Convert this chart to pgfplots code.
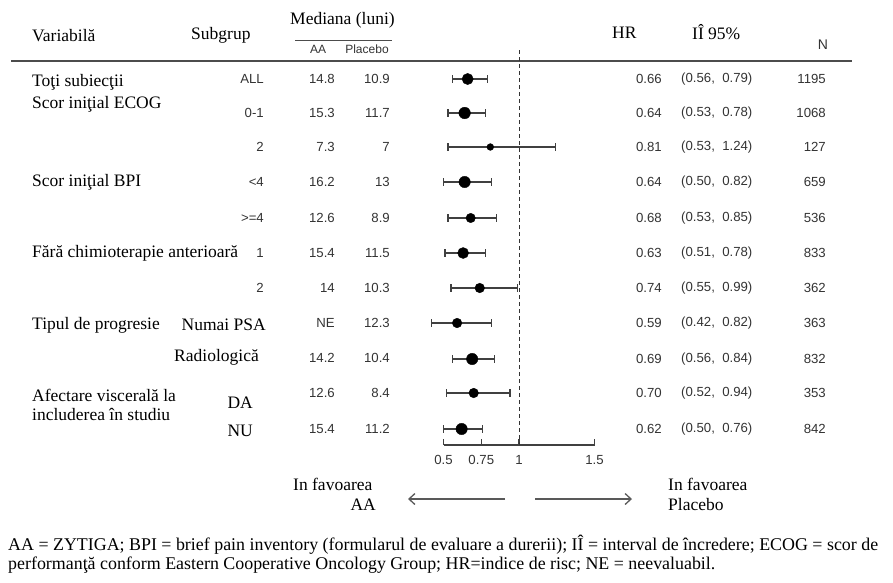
\documentclass[border=0pt]{standalone}
\usepackage{fontspec}
\setmainfont{Liberation Serif}
\newfontfamily\sansf{Liberation Sans}
\usepackage{pgfplots}
\pgfplotsset{compat=1.18}
\usepackage{pgfplotstable}
\usetikzlibrary{arrows.meta}
\newcommand{\ser}{\fontsize{17.5}{19}\selectfont}
\newcommand{\num}{\sansf\fontsize{13.2}{15}\selectfont}
\definecolor{numc}{HTML}{333333}
\pgfplotstableread{
y hr lo hi ms
-79 0.66 0.56 0.79 5.6
-113 0.64 0.53 0.78 5.8
-147 0.81 0.53 1.24 3.4
-182 0.64 0.50 0.82 5.7
-218 0.68 0.53 0.85 4.7
-253 0.63 0.51 0.78 5.5
-288 0.74 0.55 0.99 4.8
-323 0.59 0.42 0.82 4.8
-359 0.69 0.56 0.84 5.7
-393 0.70 0.52 0.94 4.8
-429 0.62 0.50 0.76 5.7
}\forest
\begin{document}
\begin{tikzpicture}[x=1pt,y=1pt]
\path (0,0) rectangle (893,-582);
% headers
\node[anchor=west,inner sep=0,font=\ser] at (32,-36) {Variabilă};
\node[anchor=west,inner sep=0,font=\ser] at (191,-35) {Subgrup};
\node[anchor=west,inner sep=0,font=\ser] at (290,-20) {Mediana (luni)};
\draw[black!70,line width=0.9pt] (295,-40) -- (392,-40);
\node[inner sep=0,font=\num\fontsize{12}{14}\selectfont,text=numc] at (318,-49) {AA};
\node[inner sep=0,font=\num\fontsize{12}{14}\selectfont,text=numc] at (367,-49) {Placebo};
\node[anchor=west,inner sep=0,font=\ser] at (612,-33) {HR};
\node[anchor=west,inner sep=0,font=\ser] at (692,-32) {IÎ 95\%};
\node[inner sep=0,font=\num\fontsize{14}{16}\selectfont,text=numc] at (823,-45) {N};
\draw[black!70,line width=1.4pt] (11,-61) -- (852,-61);
% variable labels
\node[anchor=west,inner sep=0,font=\ser] at (32,-82) {Toţi subiecţii};
\node[anchor=west,inner sep=0,font=\ser] at (32,-104) {Scor iniţial ECOG};
\node[anchor=west,inner sep=0,font=\ser] at (32,-182) {Scor iniţial BPI};
\node[anchor=west,inner sep=0,font=\ser] at (32,-253) {Fără chimioterapie anterioară};
\node[anchor=west,inner sep=0,font=\ser] at (32,-325) {Tipul de progresie};
\node[anchor=west,inner sep=0,font=\ser] at (32,-395) {Afectare viscerală la};
\node[anchor=west,inner sep=0,font=\ser] at (32,-414) {includerea în studiu};
% subgroup labels
\foreach \t/\yy in {ALL/79,0-1/113,2/147,<4/182,>=4/218,1/253,2/288}
  \node[anchor=east,inner sep=0,font=\num,text=numc] at (264,-\yy) {\t};
\node[anchor=east,inner sep=0,font=\ser] at (266,-325) {Numai PSA};
\node[anchor=east,inner sep=0,font=\ser] at (259,-357) {Radiologică};
\node[anchor=east,inner sep=0,font=\ser] at (253,-403) {DA};
\node[anchor=east,inner sep=0,font=\ser] at (253,-431) {NU};
% medians
\foreach \a/\p/\yy in {14.8/10.9/79,15.3/11.7/113,7.3/7/147,16.2/13/182,12.6/8.9/218,15.4/11.5/253,14/10.3/288,NE/12.3/323,14.2/10.4/358,12.6/8.4/393,15.4/11.2/429}{
  \node[anchor=east,inner sep=0,font=\num,text=numc] at (335,-\yy) {\a};
  \node[anchor=east,inner sep=0,font=\num,text=numc] at (390,-\yy) {\p};
}
% HR, CI, N
\foreach \h/\c/\n/\yy in {0.66/{(0.56,\ \ 0.79)}/1195/79,0.64/{(0.53,\ \ 0.78)}/1068/113,0.81/{(0.53,\ \ 1.24)}/127/147,0.64/{(0.50,\ \ 0.82)}/659/182,0.68/{(0.53,\ \ 0.85)}/536/218,0.63/{(0.51,\ \ 0.78)}/833/253,0.74/{(0.55,\ \ 0.99)}/362/288,0.59/{(0.42,\ \ 0.82)}/363/323,0.69/{(0.56,\ \ 0.84)}/832/359,0.70/{(0.52,\ \ 0.94)}/353/393,0.62/{(0.50,\ \ 0.76)}/842/429}{
  \node[anchor=east,inner sep=0,font=\num,text=numc] at (662,-\yy) {\h};
  \node[anchor=west,inner sep=0,font=\num,text=numc] at (681,-\yy) {\c};
  \node[anchor=east,inner sep=0,font=\num,text=numc] at (826,-\yy) {\n};
}
\begin{axis}[
  at={(443.5pt,-445pt)}, anchor=south west,
  scale only axis, width=151pt, height=395pt,
  xmin=0.5, xmax=1.5, ymin=-445, ymax=-50,
  clip=false,
  axis x line*=bottom, axis y line=none,
  axis line style={black!75,line width=1.1pt},
  xtick={0.5,0.75,1,1.5}, xticklabels={0.5,0.75,1,1.5},
  xtick align=inside, major tick length=6pt,
  tick style={black!75,line width=1.1pt},
  xticklabel style={font=\num,text=numc,yshift=-7pt},
  ytick=\empty,
]
\addplot[black!80,line width=1pt,dash pattern=on 4pt off 3pt] coordinates {(1,-50) (1,-445)};
\addplot[only marks, mark=none, error bars/.cd, x dir=both, x explicit,
  error bar style={black!75,line width=1.2pt},
  error mark options={black!75,line width=1.2pt,mark size=3.8pt,rotate=90}]
  table[x=hr,y=y,x error plus expr=\thisrow{hi}-\thisrow{hr},x error minus expr=\thisrow{hr}-\thisrow{lo}] {\forest};
\addplot[scatter, only marks, mark=*, scatter/use mapped color={draw=black,fill=black},
  visualization depends on={\thisrow{ms}\as\ms},
  scatter/@pre marker code/.append style={/tikz/mark size=\ms}]
  table[x=hr,y=y,meta=ms] {\forest};
\end{axis}
% bottom
\node[anchor=west,inner sep=0,font=\ser] at (293,-484) {In favoarea};
\node[anchor=east,inner sep=0,font=\ser] at (376,-505) {AA};
\node[anchor=west,inner sep=0,font=\ser] at (668,-484) {In favoarea};
\node[anchor=west,inner sep=0,font=\ser] at (668,-505) {Placebo};
\draw[black!65,line width=1.3pt,-{Straight Barb[length=6pt,width=11pt]}] (505,-499) -- (408,-499);
\draw[black!65,line width=1.3pt,-{Straight Barb[length=6pt,width=11pt]}] (535,-499) -- (632,-499);
% footnote
\node[anchor=west,inner sep=0,font=\fontsize{17.9}{20}\selectfont] at (8,-545) {AA = ZYTIGA; BPI = brief pain inventory (formularul de evaluare a durerii); IÎ = interval de încredere; ECOG = scor de};
\node[anchor=west,inner sep=0,font=\fontsize{17.9}{20}\selectfont] at (8,-565) {performanţă conform Eastern Cooperative Oncology Group; HR=indice de risc; NE = neevaluabil.};
\end{tikzpicture}
\end{document}
